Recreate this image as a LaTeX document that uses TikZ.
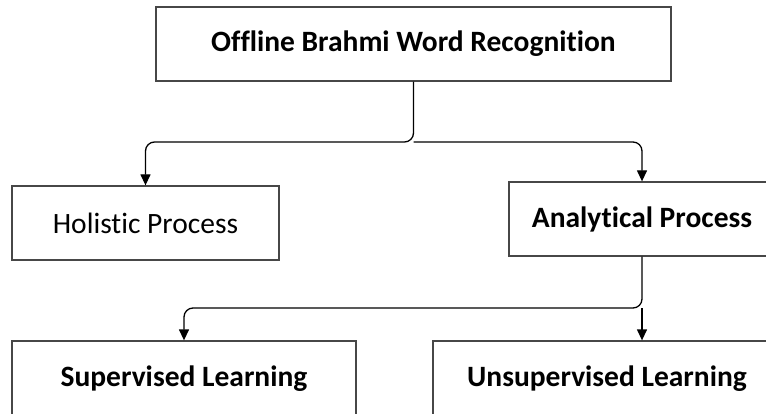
\documentclass[tikz,border=0pt]{standalone}
\usepackage{fontspec}
\setmainfont{Carlito}[Ligatures=NoCommon]
\usetikzlibrary{arrows.meta}
\begin{document}
\begin{tikzpicture}[x=1pt,y=-1pt,
  box/.style={draw=black!72, line width=1.3pt, fill=white, inner sep=0pt,
    font=\fontsize{29.5}{34}\selectfont, align=center},
  hdbox/.style={box, font=\fontsize{29.5}{34}\selectfont\bfseries},
  link/.style={line width=1.3pt, rounded corners=9pt},
  arr/.style={link, -{Triangle[length=11pt,width=10pt]}}]
  \useasboundingbox (0,0) rectangle (766,414);
  \clip (0,0) rectangle (766,414);

  % boxes
  \node[hdbox, minimum width=515pt, minimum height=74pt] (top) at (413.5,44) {Offline Brahmi Word Recognition};
  \node[box, minimum width=267pt, minimum height=74pt] (hol) at (145.5,223) {Holistic Process};
  \node[hdbox, minimum width=266pt, minimum height=74pt] (ana) at (642,219) {Analytical Process};
  \node[hdbox, minimum width=344pt, minimum height=76pt] (sup) at (184,379) {Supervised Learning};
  \node[hdbox, minimum width=348pt, minimum height=76pt] (uns) at (607,379) {Unsupervised Learning};

  % junction points
  \coordinate (j1) at (top.south |- 0,142);
  \coordinate (j2) at (ana.south |- 0,308);

  % connectors
  \draw[arr] (top.south) -- (j1) -| (hol.north);
  \draw[arr] (j1) -| (ana.north);
  \draw[arr] (ana.south) -- (j2) -| (sup.north);
  \draw[arr] (j2) -- (j2 |- uns.north);
\end{tikzpicture}
\end{document}
